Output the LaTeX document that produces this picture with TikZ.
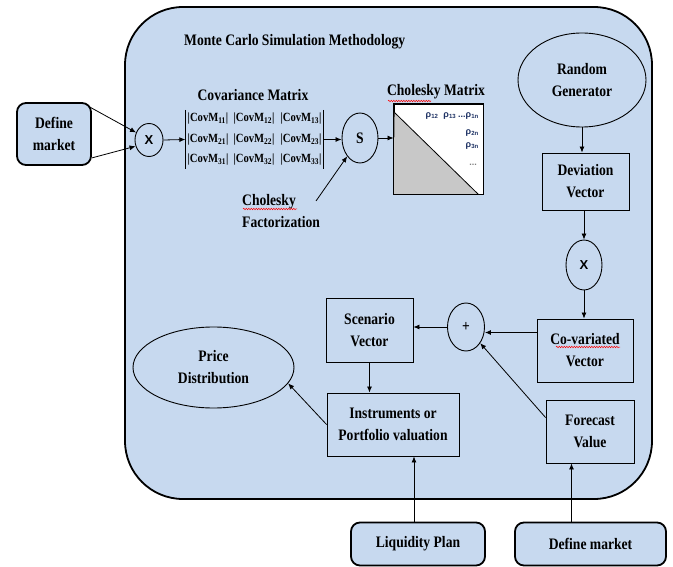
\documentclass[tikz,border=0pt]{standalone}
\usepackage{fontspec}
\setmainfont{Liberation Serif}[FakeStretch=0.85]
\newfontfamily\sansbf{Liberation Sans}
\usetikzlibrary{arrows.meta,shapes.geometric,fit,calc,decorations.pathmorphing}
\definecolor{bluefill}{RGB}{199,217,239}
\definecolor{navy}{RGB}{30,50,100}
\definecolor{trigray}{RGB}{200,200,200}
\begin{document}
\begin{tikzpicture}[x=1pt,y=-1pt,
  txt/.style={font=\fontsize{16}{22}\selectfont\bfseries, align=center, inner sep=0pt},
  vbox/.style={txt, draw, line width=0.9pt, rectangle},
  obox/.style={txt, draw, line width=1.8pt, rounded corners=9pt, fill=bluefill},
  oval/.style={txt, draw, line width=0.9pt, ellipse},
  xfont/.style={font=\sansbf\bfseries\fontsize{13}{15}\selectfont},
  ment/.style={font=\fontsize{12.5}{14}\selectfont\bfseries, inner sep=0pt},
  rho/.style={font=\sansbf\bfseries\fontsize{9}{10}\selectfont, text=navy, inner sep=0pt},
  arr/.style={-{Latex[length=6pt,width=5pt]}, line width=0.8pt},
  squig/.style={red, line width=0.5pt, decorate, decoration={snake, amplitude=0.7pt, segment length=2.5pt}}]
\useasboundingbox (0,0) rectangle (673,567);
% container
\draw[line width=1.8pt, fill=bluefill, rounded corners=58pt] (125,7) rectangle (652,499);
\node[txt, anchor=west] (title) at (184,42) {Monte Carlo Simulation Methodology};
% left part
\node[obox, minimum width=74pt, minimum height=62pt] (defL) at (54,134) {Define\\market};
\node[oval, xfont, minimum width=28pt, minimum height=33pt] (xL) at (149,140) {X};
\node[txt] (covlbl) at (253,95) {Covariance Matrix};
\node[ment] (m11) at (208,119) {|CovM\textsubscript{11}|};
\node[ment] (m12) at (254,119) {|CovM\textsubscript{12}|};
\node[ment] (m13) at (301,119) {|CovM\textsubscript{13}|};
\node[ment] (m21) at (208,140) {|CovM\textsubscript{21}|};
\node[ment] (m22) at (254,140) {|CovM\textsubscript{22}|};
\node[ment] (m23) at (301,140) {|CovM\textsubscript{23}|};
\node[ment] (m31) at (208,160) {|CovM\textsubscript{31}|};
\node[ment] (m32) at (254,160) {|CovM\textsubscript{32}|};
\node[ment] (m33) at (301,160) {|CovM\textsubscript{33}|};
\node[fit=(m11)(m33), inner xsep=2pt, inner ysep=3pt] (cov) {};
\draw[line width=0.8pt] (cov.north west) -- (cov.south west) (cov.north east) -- (cov.south east);
\node[oval, minimum width=36pt, minimum height=50pt] (S) at (360,138) {S};
\node[txt, align=left, anchor=west] (cholf) at (242,211.5) {Cholesky\\Factorization};
\coordinate (fs) at (316,201);
% Cholesky matrix
\node[txt] (chollbl) at (436,92) {Cholesky Matrix};
\node[draw, line width=0.9pt, fill=white, minimum width=89pt, minimum height=90pt, inner sep=0pt] (chol) at (438.5,149) {};
\fill[trigray] ($(chol.north west)+(1,9)$) -- ($(chol.south east)+(-5,0)$) -- (chol.south west) -- cycle;
\draw[line width=0.8pt] ($(chol.north west)+(1,9)$) -- ($(chol.south east)+(-5,0)$);
\draw[line width=0.9pt] (chol.north west) rectangle (chol.south east);
\node[rho, anchor=east] (r1) at (479,116) {ρ\textsubscript{12}\hspace{5pt}ρ\textsubscript{13}\hspace{2pt}...ρ\textsubscript{1n}};
\node[rho, anchor=east] (r2) at (479,133) {ρ\textsubscript{2n}};
\node[rho, anchor=east] (r3) at (479,146) {ρ\textsubscript{3n}};
\node[rho, anchor=east, text=gray] (r4) at (477,165) {...};
% right column
\node[oval, minimum width=128pt, minimum height=94pt] (rg) at (582,80) {Random\\Generator};
\node[vbox, minimum width=87pt, minimum height=57pt] (dev) at (585.5,181.5) {Deviation\\Vector};
\node[oval, xfont, minimum width=36pt, minimum height=50pt] (xR) at (584,265) {X};
\node[vbox, minimum width=96pt, minimum height=63pt] (covar) at (585,350.5) {Co-variated\\Vector};
\node[oval, minimum width=37pt, minimum height=48pt] (plus) at (466,327) {+};
\node[vbox, minimum width=87pt, minimum height=64pt] (scen) at (369.5,330) {Scenario\\Vector};
\node[oval, minimum width=161pt, minimum height=81pt] (price) at (213.5,367.5) {Price\\Distribution};
\node[vbox, minimum width=132pt, minimum height=63pt] (instr) at (393,424.5) {Instruments or\\Portfolio valuation};
\node[vbox, minimum width=88pt, minimum height=63pt] (fore) at (590,431.5) {Forecast\\Value};
\node[obox, minimum width=134pt, minimum height=43pt] (liq) at (418,544) {Liquidity Plan};
\node[obox, minimum width=151pt, minimum height=43pt] (defR) at (590.5,544) {Define market};
% spell-check squiggles
\draw[squig] (388,101) -- (431,101);
\draw[squig] (243,209) -- (297,209);
\draw[squig] (556,347) -- (620,347);
% connectors
\draw[arr] ($(defL.north east)+(-2,5)$) -- (xL.150);
\draw[arr] ($(defL.south east)+(0,-8)$) -- (xL.205);
\draw[arr] (xL.east) -- (cov.west);
\draw[arr] (cov.east) -- (cov.east -| S.west);
\draw[arr] (fs) -- (S);
\draw[arr] (S.east) -- (S.east -| chol.west);
\draw[arr] (rg.south) -- (rg.south |- dev.north);
\draw[arr] (dev.south -| xR.north) -- (xR.north);
\draw[arr] (xR.south) -- (xR.south |- covar.north);
\draw[arr] ([yshift=18pt]covar.west) -- ([yshift=18pt]covar.west -| plus.east);
\draw[arr] (plus.west) -- (plus.west -| scen.east);
\draw[arr] ([yshift=14pt]fore.west) -- (plus);
\draw[arr] (scen.south) -- (scen.south |- instr.north);
\draw[arr] (instr.west) -- (price.-12);
\draw[arr] ([xshift=-4pt]liq.north) -- ([xshift=-4pt]liq.north |- instr.south);
\draw[arr] ([xshift=-19pt]defR.north) -- ([xshift=-19pt]defR.north |- fore.south);
\end{tikzpicture}
\end{document}
